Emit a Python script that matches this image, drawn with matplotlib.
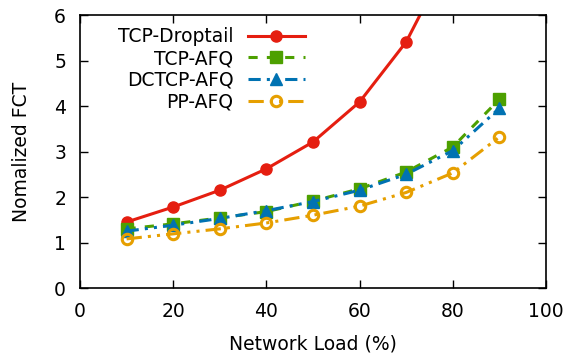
import matplotlib
matplotlib.use('Agg')
import matplotlib.pyplot as plt

load = [10, 20, 30, 40, 50, 60, 70, 80, 90]
tcp_droptail = [1.45, 1.78, 2.15, 2.62, 3.21, 4.09, 5.41, 7.4, 9.8]
tcp_afq = [1.30, 1.41, 1.54, 1.68, 1.91, 2.18, 2.55, 3.10, 4.15]
dctcp_afq = [1.25, 1.38, 1.53, 1.70, 1.90, 2.15, 2.50, 3.02, 3.95]
pp_afq = [1.08, 1.19, 1.30, 1.43, 1.60, 1.80, 2.10, 2.53, 3.32]

plt.rcParams['font.family'] = ['DejaVu Sans']
fs = 13.5

fig = plt.figure(figsize=(5.69, 3.54), dpi=100)
ax = fig.add_axes([0.1406, 0.1864, 0.819, 0.7712])

ax.plot(load, tcp_droptail, color='#e51e10', lw=2.2, marker='o', ms=8,
        label='TCP-Droptail')
ax.plot(load, tcp_afq, color='#4da000', lw=2.2, ls=(0, (3, 3)), marker='s', ms=8,
        label='TCP-AFQ')
ax.plot(load, dctcp_afq, color='#0072b2', lw=2.2, ls=(0, (4, 2, 1, 2, 1, 2)),
        marker='^', ms=9, label='DCTCP-AFQ')
ax.plot(load, pp_afq, color='#e69f00', lw=2.2, ls=(0, (5, 2, 1, 2, 1, 2)),
        marker='o', ms=7.5, mfc='none', mew=2.2, label='PP-AFQ')

ax.set_xlim(0, 100)
ax.set_ylim(0, 6)
ax.set_xticks(range(0, 101, 20))
ax.set_yticks(range(0, 7))
ax.tick_params(direction='in', top=True, right=True, length=6, width=1,
               labelsize=fs)
ax.tick_params(axis='x', pad=10)
ax.tick_params(axis='y', pad=10)
for s in ax.spines.values():
    s.set_linewidth(1.2)

ax.set_xlabel('Network Load (%)', fontsize=fs, labelpad=10)
ax.set_ylabel('Nomalized FCT', fontsize=fs, labelpad=17)

ax.legend(loc='upper left', bbox_to_anchor=(0.055, 1.0), frameon=False,
          markerfirst=False, handlelength=3.0, handletextpad=0.8,
          labelspacing=0.15, fontsize=fs, borderaxespad=0.25)

fig.savefig('out.png', dpi=100)
